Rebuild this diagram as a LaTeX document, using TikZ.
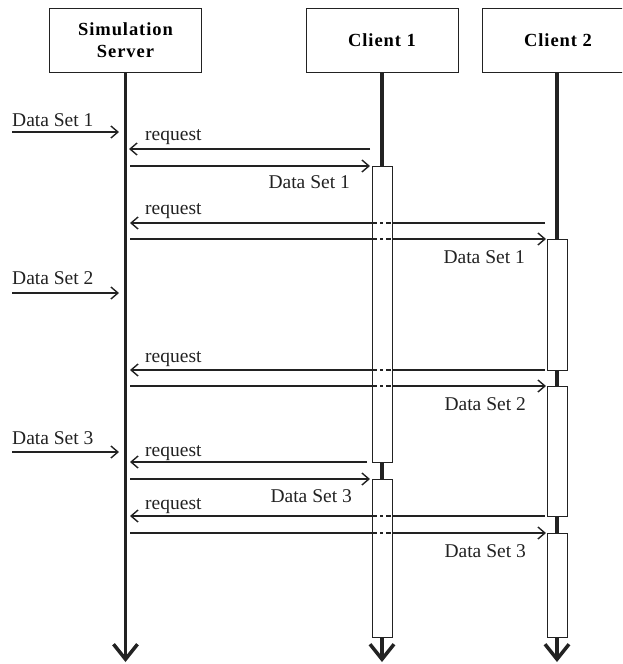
\documentclass[tikz,border=0pt]{standalone}
\usepackage{fontspec}
\setmainfont{Liberation Serif}
\usetikzlibrary{arrows.meta}
\definecolor{linec}{HTML}{222222}
\newfontfamily\hdrfam[LetterSpace=5]{Liberation Serif}
\begin{document}
\begin{tikzpicture}[x=1pt,y=-1pt,
  hdr/.style={draw=linec, line width=1pt, fill=white, minimum width=152pt, minimum height=64pt,
    font=\hdrfam\bfseries\fontsize{18.5}{22}\selectfont, align=center, inner sep=0pt},
  life/.style={draw=linec, line width=3.5pt, -{Straight Barb[length=15pt,width=24pt]}},
  act/.style={draw=linec, line width=1pt, fill=white, minimum width=20pt, inner sep=0pt, anchor=north},
  msg/.style={draw=linec, line width=1.4pt, -{Straight Barb[length=7pt,width=12pt]}},
  lbl/.style={font=\fontsize{19.5}{22}\selectfont, text=linec, inner sep=0pt},
  crossing/.style={draw=linec, line width=1.4pt, dash pattern=on 5pt off 3pt on 3pt off 3pt}
]
\useasboundingbox (0,0) rectangle (622,664);
\clip (0,0) rectangle (622,664);

% header boxes
\node[hdr] (srv) at (125.5,40) {Simulation\\Server};
\node[hdr] (cl1) at (382,40) {Client 1};
\node[hdr] (cl2) at (558,40) {Client 2};

% lifeline ends
\coordinate (srvEnd) at (125.5,662);
\coordinate (cl1End) at (382,662);
\coordinate (cl2End) at (557,662);
\draw[life] (srv.south) -- (srvEnd);
\draw[life] (cl1.south) -- (cl1End);
\draw[life] (cl2.south -| cl2End) -- (cl2End);

% external inputs
\coordinate (e1a) at (12,132);  \coordinate (e1b) at (119,132);
\coordinate (e2a) at (12,293);  \coordinate (e2b) at (119,293);
\coordinate (e3a) at (12,452);  \coordinate (e3b) at (119,452);
\draw[msg] (e1a) -- (e1b);
\draw[msg] (e2a) -- (e2b);
\draw[msg] (e3a) -- (e3b);
\node[lbl, anchor=base west] (le1) at (12,126) {Data Set 1};
\node[lbl, anchor=base west] (le2) at (12,284) {Data Set 2};
\node[lbl, anchor=base west] (le3) at (12,444) {Data Set 3};

% requests (client -> server)
\coordinate (r1a) at (370,149); \coordinate (r1b) at (129,149);
\coordinate (r2a) at (545,223); \coordinate (r2b) at (130,223);
\coordinate (r3a) at (545,370); \coordinate (r3b) at (130,370);
\coordinate (r4a) at (367,462); \coordinate (r4b) at (130,462);
\coordinate (r5a) at (545,516); \coordinate (r5b) at (130,516);
\draw[msg] (r1a) -- (r1b);
\draw[msg] (r2a) -- (r2b);
\draw[msg] (r3a) -- (r3b);
\draw[msg] (r4a) -- (r4b);
\draw[msg] (r5a) -- (r5b);
\node[lbl, anchor=base west] (lr1) at (145,140) {request};
\node[lbl, anchor=base west] (lr2) at (145,214) {request};
\node[lbl, anchor=base west] (lr3) at (145,362) {request};
\node[lbl, anchor=base west] (lr4) at (145,456) {request};
\node[lbl, anchor=base west] (lr5) at (145,509) {request};

% data (server -> client)
\coordinate (d1a) at (130,166); \coordinate (d1b) at (370,166);
\coordinate (d2a) at (130,239); \coordinate (d2b) at (546,239);
\coordinate (d3a) at (130,386); \coordinate (d3b) at (546,386);
\coordinate (d4a) at (130,479); \coordinate (d4b) at (370,479);
\coordinate (d5a) at (130,533); \coordinate (d5b) at (546,533);
\draw[msg] (d1a) -- (d1b);
\draw[msg] (d2a) -- (d2b);
\draw[msg] (d3a) -- (d3b);
\draw[msg] (d4a) -- (d4b);
\draw[msg] (d5a) -- (d5b);
\node[lbl, anchor=base east] (ld1) at (350,188) {Data Set 1};
\node[lbl, anchor=base east] (ld2) at (525,263) {Data Set 1};
\node[lbl, anchor=base east] (ld3) at (526,410) {Data Set 2};
\node[lbl, anchor=base east] (ld4) at (352,502) {Data Set 3};
\node[lbl, anchor=base east] (ld5) at (526,557) {Data Set 3};

% activation boxes
\node[act, minimum height=296pt] (a11) at (382,166) {};
\node[act, minimum height=158pt] (a12) at (382,479) {};
\node[act, minimum height=131pt] (a21) at (557,239) {};
\node[act, minimum height=130pt] (a22) at (557,386) {};
\node[act, minimum height=104pt] (a23) at (557,533) {};

% crossings through client 1 activation
\foreach \yy in {223,239,370,386,516,533}{
  \draw[crossing] (372,\yy) -- (392,\yy);
}
\end{tikzpicture}
\end{document}
